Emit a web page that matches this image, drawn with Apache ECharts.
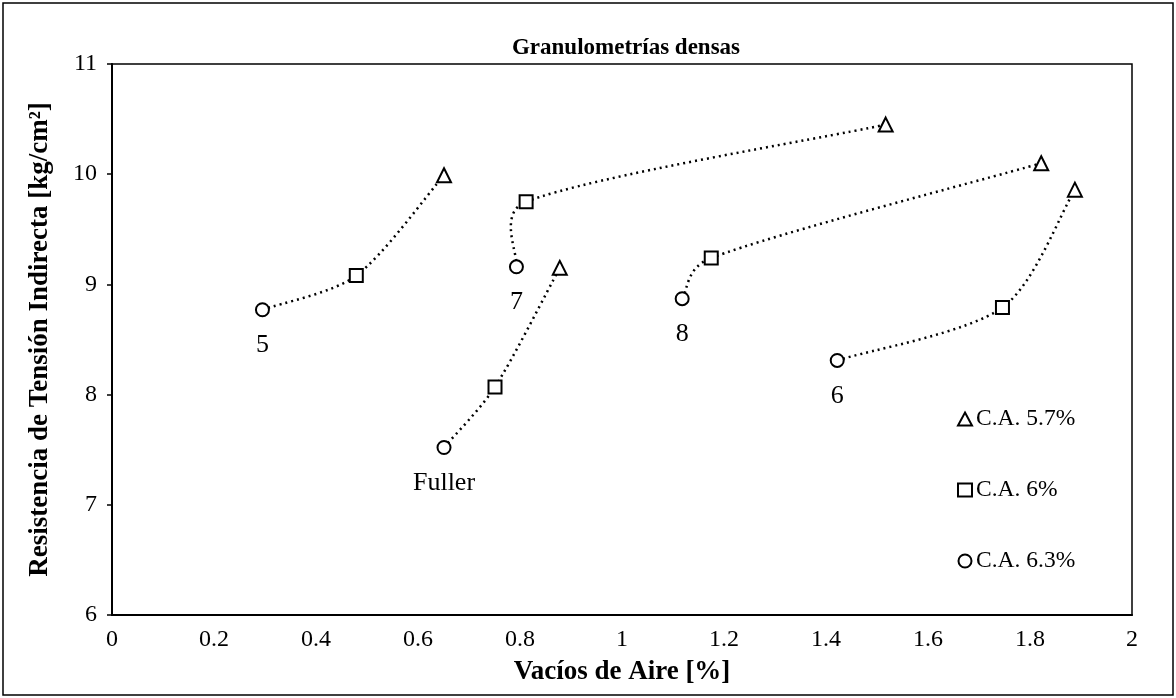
<!DOCTYPE html>
<html>
<head>
<meta charset="utf-8">
<script src="https://cdn.jsdelivr.net/npm/echarts@6/dist/echarts.min.js"></script>
<style>
  html, body { margin: 0; padding: 0; background: #fff; }
  #chart { width: 1176px; height: 698px; }
</style>
</head>
<body>
<div id="chart"></div>
<script>
// groups (granulometries) – one dotted curve each
var groups = ['5', 'Fuller', '7', '8', '6'];

// C.A. 5.7% (triangles)
var ca57X = [0.651, 0.878, 1.517, 1.822, 1.888];
var ca57Y = [9.99, 9.15, 10.45, 10.10, 9.86];

// C.A. 6% (squares)
var ca6X = [0.479, 0.751, 0.812, 1.175, 1.746];
var ca6Y = [9.08, 8.07, 9.75, 9.24, 8.79];

// C.A. 6.3% (circles)
var ca63X = [0.295, 0.651, 0.793, 1.118, 1.422];
var ca63Y = [8.77, 7.52, 9.16, 8.87, 8.31];

var seriesNames = ['C.A. 5.7%', 'C.A. 6%', 'C.A. 6.3%'];

var FONT = 'Liberation Serif';
var SMOOTH = 0.2;
var chart = echarts.init(document.getElementById('chart'));

function pairs(xs, ys) {
    var out = [];
    for (var i = 0; i < xs.length; i++) out.push([xs[i], ys[i]]);
    return out;
}

function dist(a, b) {
    return Math.sqrt((a[0] - b[0]) * (a[0] - b[0]) + (a[1] - b[1]) * (a[1] - b[1]));
}

// control point next to "cur", Excel-like smoothing
function ctrl(prev, cur, next, forward) {
    var vx = next[0] - prev[0], vy = next[1] - prev[1];
    var d0 = dist(prev, cur), d1 = dist(cur, next);
    var tot = (d0 + d1) || 1;
    var k = SMOOTH * Math.sqrt((forward ? d1 : d0) / tot);
    var s = forward ? 1 : -1;
    return [cur[0] + s * vx * k, cur[1] + s * vy * k];
}

// dotted smoothed curve per group: circle -> square -> triangle
function renderCurve(params, api) {
    var i = params.dataIndex;
    var pts = [
        api.coord([ca63X[i], ca63Y[i]]),
        api.coord([ca6X[i], ca6Y[i]]),
        api.coord([ca57X[i], ca57Y[i]])
    ];
    var children = [];
    for (var k = 0; k < pts.length - 1; k++) {
        var p0 = pts[k - 1] || pts[k];
        var p1 = pts[k], p2 = pts[k + 1];
        var p3 = pts[k + 2] || pts[k + 1];
        var c1 = ctrl(p0, p1, p2, true);
        var c2 = ctrl(p1, p2, p3, false);
        children.push({
            type: 'bezierCurve',
            shape: {
                x1: p1[0], y1: p1[1], x2: p2[0], y2: p2[1],
                cpx1: c1[0], cpy1: c1[1], cpx2: c2[0], cpy2: c2[1]
            },
            style: { stroke: '#000', fill: null, lineWidth: 2.5, lineDash: [2, 4] }
        });
    }
    return { type: 'group', children: children };
}

var series = [{
    name: 'curves',
    type: 'custom',
    renderItem: renderCurve,
    data: pairs(ca63X, ca63Y),
    encode: { x: 0, y: 1 },
    silent: true,
    z: 1
}];

var markStyle = { color: '#fff', borderColor: '#000', borderWidth: 2, opacity: 1 };

series.push({
    name: seriesNames[0],
    type: 'scatter',
    symbol: 'triangle',
    symbolSize: 14,
    itemStyle: markStyle,
    z: 3,
    data: pairs(ca57X, ca57Y)
});
series.push({
    name: seriesNames[1],
    type: 'scatter',
    symbol: 'rect',
    symbolSize: 13,
    itemStyle: markStyle,
    z: 3,
    data: pairs(ca6X, ca6Y)
});
series.push({
    name: seriesNames[2],
    type: 'scatter',
    symbol: 'circle',
    symbolSize: 13,
    itemStyle: markStyle,
    z: 3,
    label: {
        show: true,
        position: 'bottom',
        distance: 15,
        formatter: '{b}',
        fontFamily: FONT,
        fontSize: 26,
        color: '#000'
    },
    data: ca63X.map(function (x, i) {
        return { name: groups[i], value: [x, ca63Y[i]] };
    })
});

var option = {
    backgroundColor: '#fff',
    animation: false,
    title: {
        text: 'Granulometrías densas',
        left: 621,
        top: 32,
        textAlign: 'center',
        textStyle: { fontFamily: FONT, fontSize: 23, fontWeight: 'bold', color: '#000' }
    },
    grid: {
        left: 112, right: 44, top: 64, bottom: 83,
        show: true, borderColor: '#000', borderWidth: 1.5
    },
    legend: {
        data: seriesNames,
        orient: 'vertical',
        left: 952,
        top: 402,
        itemWidth: 14,
        itemHeight: 13,
        itemGap: 47,
        textStyle: { fontFamily: FONT, fontSize: 23.5, color: '#000', padding: [0, 0, 0, -1] }
    },
    xAxis: {
        type: 'value',
        min: 0, max: 2, interval: 0.2,
        name: 'Vacíos de Aire [%]',
        nameLocation: 'middle',
        nameGap: 44,
        nameTextStyle: { fontFamily: FONT, fontSize: 27, fontWeight: 'bold', color: '#000' },
        axisLine: { show: true, lineStyle: { color: '#000', width: 2 } },
        axisTick: { show: false },
        splitLine: { show: false },
        axisLabel: {
            margin: 13, fontFamily: FONT, fontSize: 24, color: '#000',
            formatter: function (v) { return String(Math.round(v * 10) / 10); }
        }
    },
    yAxis: {
        type: 'value',
        min: 6, max: 11, interval: 1,
        name: 'Resistencia de Tensión Indirecta [kg/cm²]',
        nameLocation: 'middle',
        nameGap: 58,
        nameTextStyle: { fontFamily: FONT, fontSize: 27, fontWeight: 'bold', color: '#000' },
        axisLine: { show: true, lineStyle: { color: '#000', width: 2 } },
        axisTick: { show: true, inside: false, length: 5, lineStyle: { color: '#000', width: 1.5 } },
        splitLine: { show: false },
        axisLabel: { margin: 15, fontFamily: FONT, fontSize: 24, color: '#000' }
    },
    graphic: [{
        type: 'rect',
        shape: { x: 3, y: 3, width: 1170, height: 692 },
        style: { fill: null, stroke: '#000', lineWidth: 1.5 },
        silent: true
    }],
    series: series
};

chart.setOption(option);
</script>
</body>
</html>
